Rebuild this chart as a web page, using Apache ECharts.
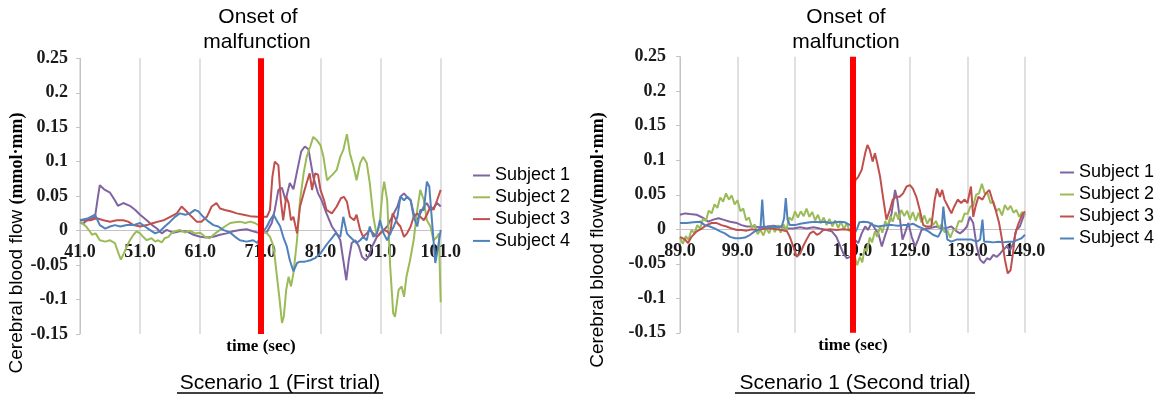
<!DOCTYPE html>
<html><head><meta charset="utf-8">
<script src="https://cdn.jsdelivr.net/npm/echarts@6/dist/echarts.min.js"></script>
<style>html,body{margin:0;padding:0;background:#fff}#c{width:1158px;height:396px}</style>
</head><body><div id="c"></div>
<script>
// ---- data ----
const seriesNames = ['Subject 1', 'Subject 2', 'Subject 3', 'Subject 4'];
const ticksFirst = [41, 51, 61, 71, 81, 91, 101];
const ticksSecond = [89, 99, 109, 119, 129, 139, 149];
const onsetFirst = 71;
const onsetSecond = 119;

// Scenario 1 (First trial): [time (sec), cerebral blood flow]
const first1 = [[41,0.012],[41.5,0.01],[42,0.014],[42.5,0.016],[43,0.018],[43.5,0.02],[44,0.05],[44.3,0.066],[45,0.06],[46,0.055],[46.8,0.044],[47.3,0.036],[48.2,0.04],[49.3,0.036],[50.2,0.03],[51,0.023],[52.1,0.015],[53,0.008],[53.8,0.003],[54.6,-0.004],[55.4,0.001],[56.5,-0.003],[57.6,-0.001],[58.7,-0.001],[59.9,-0.006],[61,-0.009],[62,-0.01],[63.2,-0.009],[64.3,-0.006],[65.4,-0.004],[66.5,-0.001],[67.6,0.001],[68.7,0.002],[69.8,-0.001],[71,-0.004],[72.1,-0.002],[72.9,0.011],[73.4,0.03],[74,0.059],[74.6,0.062],[75.2,0.044],[75.9,0.069],[76.5,0.06],[77.2,0.09],[77.8,0.115],[78.4,0.122],[79,0.118],[79.8,0.078],[80.6,0.054],[81.2,0.044],[82,0.025],[82.9,0.006],[83.7,-0.004],[84.3,-0.014],[84.8,-0.043],[85.3,-0.072],[85.7,-0.043],[86.2,-0.018],[86.8,-0.014],[87.4,-0.023],[87.9,-0.038],[88.5,-0.043],[89,-0.038],[89.6,-0.023],[90.4,-0.009],[91.3,-0.001],[92.1,0.006],[92.9,0.02],[93.8,0.035],[94.3,0.049],[94.9,0.054],[95.4,0.049],[96,0.044],[96.5,0.025],[97.1,0.015],[97.6,0.025],[98.2,0.035],[98.7,0.04],[99.3,0.03],[99.8,0.033],[100.4,0.04],[101,0.035]];
const first2 = [[41,0.013],[41.5,0.01],[42,0.006],[42.7,-0.002],[43,-0.006],[43.6,-0.004],[44.3,-0.014],[45.2,-0.016],[46,-0.014],[46.8,-0.018],[47.4,-0.033],[47.8,-0.042],[48.3,-0.033],[48.8,-0.023],[49.3,-0.014],[49.9,-0.006],[50.4,-0.001],[51,-0.004],[51.5,-0.009],[52.1,-0.014],[52.9,-0.011],[53.5,-0.016],[54,-0.014],[54.6,-0.017],[55.1,-0.011],[55.7,-0.009],[56.2,-0.004],[56.8,-0.001],[57.6,0.001],[58.5,-0.003],[59.3,0],[60.1,-0.004],[61,-0.003],[61.8,-0.009],[62.6,-0.011],[63.5,-0.004],[64.3,0.001],[65.1,0.006],[66,0.011],[66.8,0.012],[67.6,0.013],[68.5,0.011],[69.3,0.013],[70.1,0.011],[71,0.006],[71.6,-0.002],[72.1,-0.004],[72.6,-0.009],[73.2,-0.023],[73.7,-0.062],[74.2,-0.1],[74.6,-0.134],[74.9,-0.125],[75.3,-0.086],[75.7,-0.067],[76.1,-0.081],[76.5,-0.062],[77.1,-0.014],[77.6,0.044],[78.2,0.083],[78.7,0.107],[79.3,0.122],[79.8,0.136],[80.4,0.131],[81,0.124],[81.5,0.107],[82.1,0.073],[82.6,0.078],[83.2,0.083],[83.7,0.088],[84.3,0.107],[84.8,0.117],[85.4,0.14],[85.9,0.112],[86.5,0.093],[87,0.073],[87.6,0.098],[88.1,0.107],[88.7,0.098],[89.2,0.069],[89.8,0.02],[90.3,-0.004],[90.8,0.006],[91.3,0.054],[91.6,0.071],[92.1,0.044],[92.6,-0.052],[93.1,-0.12],[93.4,-0.125],[94,-0.086],[94.5,-0.081],[94.9,-0.096],[95.3,-0.067],[95.9,-0.043],[96.5,-0.014],[97.1,0.03],[97.6,0.059],[98.2,0.044],[98.7,0.015],[99.3,0.006],[99.8,-0.014],[100.4,-0.009],[100.7,-0.004],[101,-0.104]];
const first3 = [[41,0.015],[42.7,0.015],[43.8,0.018],[44.9,0.015],[46,0.013],[47.1,0.015],[48.2,0.015],[49,0.013],[49.9,0.008],[51,0.006],[52.1,0.008],[53.2,0.011],[54,0.013],[54.9,0.015],[56,0.02],[57.1,0.025],[57.9,0.035],[58.7,0.028],[59.6,0.02],[60.4,0.013],[61.2,0.013],[62.1,0.02],[62.9,0.035],[63.7,0.04],[64.3,0.032],[65.1,0.03],[66,0.028],[67.1,0.025],[68.2,0.023],[69.3,0.021],[70.4,0.02],[71,0.02],[72.1,0.02],[72.6,0.03],[73,0.078],[73.4,0.1],[74,0.095],[74.4,0.044],[74.8,0.015],[75.3,0.049],[75.7,0.04],[76.1,0.015],[76.5,0.02],[77.1,-0.004],[77.6,0.035],[78.2,0.054],[78.7,0.069],[79.2,0.083],[79.6,0.059],[80.1,0.083],[80.6,0.081],[81,0.059],[81.6,0.044],[82,0.03],[82.9,0.025],[83.7,0.035],[84.4,0.047],[84.9,0.049],[85.4,0.042],[85.9,0.02],[86.6,0.015],[87,0.023],[87.6,0.001],[88.1,-0.009],[88.7,-0.004],[89.2,0.001],[89.8,-0.004],[90.4,-0.009],[90.9,-0.004],[91.5,0.001],[92.1,-0.001],[92.6,-0.006],[93,0.025],[93.3,0.02],[93.8,0.011],[94.3,0.006],[94.9,-0.009],[95.4,-0.004],[96,0.006],[96.5,0.02],[97.1,0.025],[97.6,0.02],[98.2,0.015],[98.7,0.023],[99.3,0.035],[99.8,0.03],[100.4,0.044],[101,0.059]];
const first4 = [[41,0.015],[42.4,0.018],[43.5,0.023],[44.3,0.008],[45.2,0.003],[46,0.006],[46.8,0.008],[47.7,0.006],[48.8,0.008],[49.9,0.008],[51,0.011],[51.8,0.006],[52.6,0.001],[53.5,-0.004],[54.3,-0.001],[55.1,0.006],[56,0.013],[56.8,0.02],[57.6,0.025],[58.5,0.023],[59.3,0.025],[60.1,0.03],[60.7,0.028],[61.5,0.02],[62.4,0.013],[63.2,0.008],[64,0.006],[64.8,0.001],[66,-0.003],[66.8,-0.009],[67.6,-0.014],[68.7,-0.016],[69.8,-0.014],[70.5,-0.018],[71,-0.009],[71.5,-0.001],[72.1,0.006],[72.6,0.015],[73.2,0.023],[73.7,0.015],[74.3,0.006],[74.8,-0.009],[75.4,-0.023],[75.9,-0.043],[76.5,-0.059],[77.1,-0.047],[77.6,-0.045],[78.4,-0.045],[79.3,-0.043],[80.1,-0.04],[81,-0.033],[81.8,-0.023],[82.6,-0.014],[83.5,-0.004],[84.3,-0.009],[84.8,0.02],[85.4,-0.004],[85.9,-0.009],[86.5,-0.014],[87,-0.018],[87.6,-0.014],[88.1,-0.009],[88.7,-0.014],[89.2,0.006],[89.8,-0.009],[90.4,-0.004],[90.9,0.015],[91.5,-0.004],[92.1,-0.014],[92.6,-0.004],[93.2,0.006],[93.8,0.02],[94.3,0.049],[94.9,0.044],[95.4,0.049],[96,0.044],[96.5,0.02],[97.1,0.006],[97.6,0.03],[98.2,0.03],[98.7,0.071],[99.1,0.064],[99.5,0.02],[100.1,-0.047],[100.5,-0.028],[101,0.001]];

// Scenario 1 (Second trial)
const second1 = [[89,0.021],[89.9,0.023],[90.7,0.022],[91.9,0.021],[93.1,0.016],[93.9,0.011],[94.8,0.014],[95.7,0.016],[96.5,0.014],[97.7,0.011],[98.9,0.009],[99.7,0.006],[100.6,0.004],[101.8,0.004],[102.9,0.003],[104.1,0.004],[105.2,0.005],[106.4,0.004],[107.6,0.001],[108.7,0.001],[109.9,0.003],[111,0.001],[112.2,0.003],[113.3,0.001],[114.5,-0.001],[115.4,-0.003],[116.2,-0.011],[116.8,-0.023],[117.4,-0.035],[118,-0.042],[118.6,-0.04],[119,-0.042],[119.4,-0.015],[120,-0.02],[120.6,-0.006],[121.2,0.004],[121.7,-0.001],[122.3,0.009],[122.9,0.001],[123.5,-0.006],[124.1,-0.025],[124.6,-0.011],[125.2,0.004],[125.8,0.023],[126.4,0.057],[126.8,0.043],[127.2,0.018],[127.7,-0.015],[128.1,-0.006],[128.7,0.009],[129.3,-0.011],[129.9,-0.025],[130.4,-0.015],[131,-0.001],[131.9,0.001],[132.7,0.002],[133.6,0.004],[134.5,0.001],[135.4,0.002],[136.2,0.004],[137.1,-0.003],[137.7,-0.006],[138.3,-0.002],[138.9,0.004],[139.4,0.018],[140,0.009],[140.6,-0.025],[141.2,-0.044],[141.8,-0.049],[142.4,-0.042],[142.9,-0.044],[143.5,-0.037],[144.1,-0.04],[144.7,-0.035],[145.2,-0.03],[145.8,-0.025],[146.4,-0.03],[147,-0.02],[147.5,-0.001],[148.1,0.004],[148.7,0.018],[149,0.023]];
const second2 = [[89,-0.012],[89.5,-0.021],[90,-0.01],[90.5,-0.015],[91,-0.001],[91.5,-0.006],[92,0.006],[92.5,0.001],[93,0.015],[93.5,0.012],[94,0.027],[94.5,0.023],[95,0.036],[95.5,0.031],[96,0.046],[96.5,0.04],[97,0.052],[97.5,0.043],[98,0.049],[98.5,0.036],[99,0.042],[99.5,0.026],[100,0.03],[100.5,0.013],[101,0.017],[101.5,0.003],[102,0.007],[102.5,-0.007],[103,-0.001],[103.5,-0.009],[104,0.002],[104.5,-0.006],[105,0.005],[105.5,-0.004],[106,0.006],[106.5,-0.005],[107,0.007],[107.5,-0.001],[108,0.017],[108.5,0.013],[109,0.026],[109.5,0.017],[110,0.026],[110.5,0.019],[111,0.03],[111.5,0.018],[112,0.025],[112.5,0.013],[113,0.021],[113.5,0.009],[114,0.017],[114.5,0.006],[115,0.015],[115.5,0.004],[116,0.013],[116.5,0.002],[117,0.011],[117.5,0],[118,0.009],[118.5,-0.003],[119,0.004],[119.4,-0.04],[119.8,-0.052],[120.3,-0.04],[120.7,-0.048],[121.1,-0.028],[121.5,-0.032],[122,-0.012],[122.4,-0.019],[122.9,-0.003],[123.3,-0.011],[123.8,0.004],[124.2,-0.005],[124.7,0.012],[125.1,0.004],[125.6,0.019],[126,0.011],[126.5,0.025],[127,0.014],[127.5,0.028],[128,0.019],[128.5,0.027],[129,0.014],[129.5,0.025],[130,0.012],[130.5,0.024],[131,0.01],[131.5,0.02],[132,0.008],[132.5,0.016],[133,0.006],[133.5,0.012],[134,0.002],[134.5,0.007],[135,-0.004],[135.5,-0.002],[136,-0.012],[136.5,-0.002],[137,0],[137.5,0.012],[138,0.011],[138.5,0.023],[139,0.022],[139.5,0.033],[140,0.034],[140.5,0.05],[141,0.052],[141.5,0.066],[142,0.052],[142.5,0.052],[143,0.038],[143.5,0.04],[144,0.026],[144.5,0.03],[145,0.02],[145.5,0.035],[146,0.028],[146.5,0.034],[147,0.024],[147.5,0.028],[148,0.018],[148.5,0.025],[149,0.02]];
const second3 = [[89,-0.011],[89.9,-0.015],[90.4,-0.02],[91,-0.011],[91.9,-0.003],[92.8,0.001],[93.6,0.006],[94.5,0.009],[95.4,0.009],[96.2,0.006],[97.1,0.004],[98,0.001],[98.9,-0.001],[99.7,-0.001],[100.6,-0.002],[101.5,0],[102.3,-0.001],[103.2,0],[104.1,0.001],[105,0.001],[105.8,0],[106.7,-0.001],[107.6,-0.003],[108.1,-0.011],[108.7,-0.025],[109.3,-0.04],[109.9,-0.035],[110.4,-0.025],[111,-0.015],[111.6,-0.006],[112.2,-0.003],[112.8,-0.008],[113.3,-0.006],[113.9,-0.001],[115.1,0],[116.2,-0.001],[117.4,0],[118.6,-0.001],[119,0.004],[119.2,0.043],[119.5,0.071],[120,0.076],[120.6,0.086],[121.2,0.11],[121.6,0.122],[122,0.115],[122.5,0.098],[122.9,0.11],[123.3,0.096],[123.8,0.076],[124.3,0.047],[124.9,0.014],[125.5,0.028],[126,0.043],[126.6,0.047],[127.2,0.047],[127.8,0.052],[128.4,0.062],[129,0.064],[129.5,0.059],[130.1,0.047],[130.7,0.028],[131.3,0.006],[131.8,0.004],[132.7,0.004],[133.3,0.043],[133.7,0.059],[134.2,0.047],[134.6,0.057],[135,0.043],[135.6,0.033],[136.2,0.023],[136.7,0.033],[137.3,0.043],[137.9,0.038],[138.5,0.043],[139,0.038],[139.6,0.062],[140,0.018],[140.4,0.033],[140.9,0.047],[141.6,0.043],[142.2,0.052],[142.8,0.057],[143.3,0.043],[143.9,0.028],[144.5,0.009],[145,-0.015],[145.5,-0.044],[146,-0.064],[146.5,-0.059],[146.9,-0.035],[147.3,-0.006],[147.9,0.009],[148.5,0.021],[149,0.026]];
const second4 = [[89,0.009],[90.2,0.009],[91.3,0.01],[92.5,0.011],[93.3,0.006],[94.2,0.004],[95.1,0.001],[96,-0.003],[96.8,-0.006],[97.7,-0.011],[98.6,-0.013],[99.4,-0.013],[100.3,-0.012],[101.2,-0.008],[102,-0.003],[102.6,-0.001],[103,0.002],[103.3,0.043],[103.6,0.004],[104.1,0.002],[105,0.004],[105.8,0.003],[106.7,0.004],[107.1,0.016],[107.4,0.045],[107.7,0.014],[108.1,0.006],[109,0.006],[109.9,0.008],[110.7,0.009],[111.6,0.01],[112.5,0.011],[113.3,0.01],[114.2,0.011],[115.1,0.009],[115.9,0.01],[116.8,0.011],[117.7,0.01],[118.6,0.006],[119.1,0.003],[119.4,-0.006],[119.8,0.001],[120.2,0.01],[120.9,0.011],[121.8,0.01],[122.6,0.006],[123.5,0.004],[124.3,0.005],[125.2,0.006],[126,0.006],[126.9,0.005],[127.8,0.006],[128.7,0.006],[129.5,0.008],[130.4,0.004],[131.3,0.001],[132.2,-0.003],[133,-0.008],[133.9,-0.011],[134.5,-0.001],[134.8,0.033],[135.1,0.009],[135.5,-0.015],[136.2,-0.018],[137.1,-0.015],[138,-0.015],[138.8,-0.015],[139.7,-0.015],[140.6,-0.018],[141.2,-0.015],[141.6,0.014],[141.9,-0.018],[142.6,-0.018],[143.5,-0.019],[144.4,-0.018],[145.2,-0.019],[146.1,-0.018],[147,-0.018],[147.8,-0.015],[148.4,-0.013],[149,-0.008]];

// ---- styling ----
const colors = ['#8064a2', '#9bbb59', '#c0504d', '#4f81bd'];
const sans = '"Liberation Sans", Arial, sans-serif';
const serif = '"Liberation Serif", "Times New Roman", serif';
const yMin = -0.15, yMax = 0.25;

function xAxisFor(grid, ticks, margin, gridHeight) {
  // axis placed at value 0 of the y scale (labels just under the zero line)
  const offset = -gridHeight * (0 - yMin) / (yMax - yMin);
  return {
    type: 'value', gridIndex: grid, min: ticks[0], max: ticks[ticks.length - 1],
    position: 'bottom', offset: offset,
    axisLine: { onZero: false, lineStyle: { color: '#c4c4c4', width: 1 } },
    axisTick: { show: false, customValues: ticks },
    axisLabel: { customValues: ticks, formatter: v => Number(v).toFixed(1), margin: margin,
      color: '#1a1a1a', fontFamily: serif, fontWeight: 'bold', fontSize: 18 },
    splitLine: { show: true, lineStyle: { color: '#d6d6d6', width: 1.5 } }
  };
}
function yAxisFor(grid, margin) {
  return {
    type: 'value', gridIndex: grid, min: yMin, max: yMax, interval: 0.05,
    axisLine: { show: true, onZero: false, lineStyle: { color: '#c4c4c4', width: 1 } },
    axisTick: { show: true, length: 4, lineStyle: { color: '#c4c4c4' } },
    axisLabel: { margin: margin, color: '#1a1a1a', fontFamily: serif, fontWeight: 'bold', fontSize: 18,
      formatter: v => String(+Number(v).toFixed(2)) },
    splitLine: { show: false }
  };
}
function lineSeries(data, idx, axis, onset) {
  const s = {
    name: seriesNames[idx], type: 'line', xAxisIndex: axis, yAxisIndex: axis, data: data,
    symbol: 'none', showSymbol: false, animation: false,
    lineStyle: { width: 2, color: colors[idx] }, itemStyle: { color: colors[idx] }
  };
  if (onset !== undefined) {
    s.markLine = { silent: true, symbol: 'none', animation: false, z: 6,
      label: { show: false }, lineStyle: { color: '#ff0000', width: 6, type: 'solid' },
      data: [{ xAxis: onset }] };
  }
  return s;
}
function legendFor(left, top, gap, w) {
  return { orient: 'vertical', left: left, top: top, padding: 0, itemGap: gap, itemWidth: w, itemHeight: 2,
    icon: 'rect', data: seriesNames, selectedMode: false,
    textStyle: { fontFamily: sans, fontSize: 18, color: '#000' } };
}
function txt(x, y, text, font, extra) {
  return Object.assign({ type: 'text', x: x, y: y, silent: true,
    style: { text: text, font: font, fill: '#000', align: 'center', verticalAlign: 'middle' } }, extra || {});
}

const gridH1 = 275.7, gridH2 = 276.1;
const option = {
  backgroundColor: '#ffffff',
  animation: false,
  grid: [
    { left: 80, top: 58.3, width: 360.7, height: gridH1, containLabel: false, outerBoundsMode: 'none' },
    { left: 680, top: 56.7, width: 345, height: gridH2, containLabel: false, outerBoundsMode: 'none' }
  ],
  xAxis: [xAxisFor(0, ticksFirst, 13, gridH1), xAxisFor(1, ticksSecond, 13, gridH2)],
  yAxis: [yAxisFor(0, 12), yAxisFor(1, 14)],
  legend: [legendFor(473, 166.5, 3.8, 17), legendFor(1060, 163.5, 4, 14)],
  series: [
    lineSeries(first1, 0, 0), lineSeries(first2, 1, 0), lineSeries(first3, 2, 0), lineSeries(first4, 3, 0, onsetFirst),
    lineSeries(second1, 0, 1), lineSeries(second2, 1, 1), lineSeries(second3, 2, 1), lineSeries(second4, 3, 1, onsetSecond)
  ],
  graphic: [
    txt(258, 17, 'Onset of', '21px ' + sans),
    txt(257, 42, 'malfunction', '21px ' + sans),
    txt(846, 17, 'Onset of', '21px ' + sans),
    txt(846, 42, 'malfunction', '21px ' + sans),
    txt(261, 347, 'time (sec)', 'bold 17px ' + serif),
    txt(853, 346, 'time (sec)', 'bold 17px ' + serif),
    txt(280, 383, 'Scenario 1 (First trial)', '21px ' + sans),
    txt(855, 383, 'Scenario 1 (Second trial)', '21px ' + sans),
    { type: 'line', silent: true, shape: { x1: 177, y1: 393, x2: 383, y2: 393 }, style: { stroke: '#000', lineWidth: 1.6 } },
    { type: 'line', silent: true, shape: { x1: 735, y1: 393, x2: 975, y2: 393 }, style: { stroke: '#000', lineWidth: 1.6 } },
    { type: 'text', x: 17, y: 243, rotation: Math.PI / 2, silent: true,
      style: { text: '{a|Cerebral blood flow }{b|(mmol·mm)}', align: 'center', verticalAlign: 'middle',
        rich: { a: { fontFamily: sans, fontSize: 19, fill: '#000' },
                b: { fontFamily: serif, fontSize: 18, fontWeight: 'bold', fill: '#000' } } } },
    { type: 'text', x: 598, y: 240, rotation: Math.PI / 2, silent: true,
      style: { text: '{a|Cerebral blood flow}{b|(mmol·mm)}', align: 'center', verticalAlign: 'middle',
        rich: { a: { fontFamily: sans, fontSize: 19, fill: '#000' },
                b: { fontFamily: serif, fontSize: 18, fontWeight: 'bold', fill: '#000' } } } }
  ]
};

const chart = echarts.init(document.getElementById('c'), null, { renderer: 'canvas' });
chart.setOption(option);
</script>
</body></html>
